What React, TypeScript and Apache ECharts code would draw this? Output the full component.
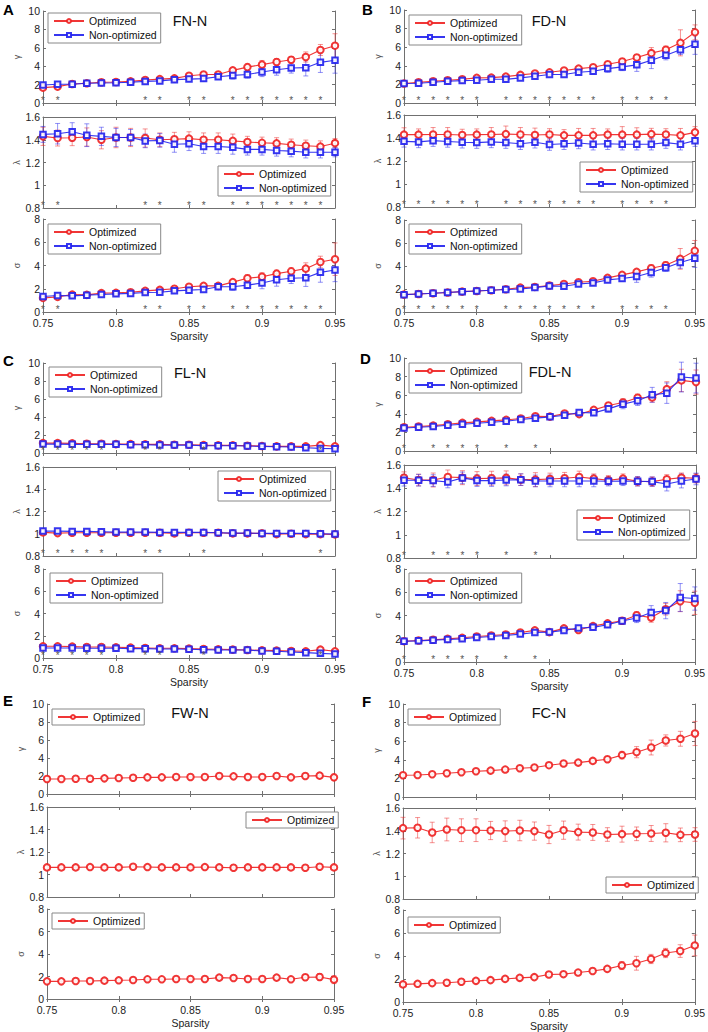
import React, { useEffect, useRef } from "react";
import * as echarts from "echarts";

// ---------------- DATA ----------------
const sparsity = [0.75, 0.76, 0.77, 0.78, 0.79, 0.8, 0.81, 0.82, 0.83, 0.84, 0.85, 0.86, 0.87, 0.88, 0.89, 0.9, 0.91, 0.92, 0.93, 0.94, 0.95];
const xTickLabels = ["0.75", "0.8", "0.85", "0.9", "0.95"];
const seriesNames = ["Optimized", "Non-optimized"];

// Panel A: FN-N
const A_gamma_opt = [1.67, 1.78, 2.07, 2.14, 2.25, 2.28, 2.35, 2.5, 2.6, 2.68, 2.97, 3.1, 3.1, 3.55, 3.9, 4.17, 4.46, 4.7, 5.0, 5.76, 6.23];
const A_gamma_opt_err = [0.15, 0.15, 0.1, 0.1, 0.1, 0.1, 0.15, 0.15, 0.15, 0.15, 0.2, 0.2, 0.2, 0.3, 0.35, 0.45, 0.35, 0.35, 0.55, 0.6, 1.3];
const A_gamma_non = [1.96, 2.03, 2.03, 2.14, 2.17, 2.2, 2.25, 2.35, 2.4, 2.54, 2.6, 2.65, 2.86, 3.0, 3.1, 3.37, 3.62, 3.8, 3.84, 4.42, 4.64];
const A_gamma_non_err = [0.1, 0.1, 0.1, 0.1, 0.1, 0.1, 0.1, 0.15, 0.15, 0.15, 0.2, 0.3, 0.3, 0.4, 0.4, 0.5, 0.6, 0.55, 0.9, 1.1, 1.4];
const A_lambda_opt = [1.43, 1.415, 1.418, 1.424, 1.4, 1.42, 1.42, 1.415, 1.4, 1.405, 1.41, 1.4, 1.4, 1.39, 1.38, 1.373, 1.368, 1.356, 1.347, 1.34, 1.37];
const A_lambda_opt_err = [0.08, 0.07, 0.07, 0.08, 0.08, 0.09, 0.08, 0.08, 0.06, 0.06, 0.06, 0.06, 0.06, 0.06, 0.05, 0.05, 0.05, 0.05, 0.05, 0.05, 0.04];
const A_lambda_non = [1.447, 1.453, 1.47, 1.44, 1.43, 1.42, 1.42, 1.39, 1.394, 1.36, 1.365, 1.34, 1.34, 1.333, 1.315, 1.315, 1.306, 1.3, 1.29, 1.29, 1.29];
const A_lambda_non_err = [0.07, 0.09, 0.08, 0.1, 0.08, 0.08, 0.07, 0.06, 0.06, 0.07, 0.06, 0.06, 0.06, 0.06, 0.05, 0.05, 0.05, 0.05, 0.05, 0.05, 0.04];
const A_sigma_opt = [1.21, 1.3, 1.5, 1.47, 1.62, 1.65, 1.7, 1.82, 1.9, 2.0, 2.17, 2.25, 2.25, 2.57, 2.9, 3.03, 3.3, 3.5, 3.73, 4.3, 4.54];
const A_sigma_opt_err = [0.1, 0.1, 0.1, 0.1, 0.1, 0.1, 0.1, 0.1, 0.1, 0.1, 0.15, 0.15, 0.15, 0.2, 0.3, 0.35, 0.3, 0.3, 0.5, 0.5, 1.4];
const A_sigma_non = [1.33, 1.42, 1.39, 1.45, 1.5, 1.56, 1.6, 1.68, 1.7, 1.82, 1.88, 1.94, 2.17, 2.17, 2.31, 2.5, 2.77, 2.9, 2.95, 3.41, 3.61];
const A_sigma_non_err = [0.1, 0.1, 0.1, 0.1, 0.1, 0.1, 0.1, 0.1, 0.1, 0.1, 0.15, 0.15, 0.2, 0.3, 0.3, 0.5, 0.55, 0.45, 0.75, 0.85, 1.0];
const A_significant = [0.75, 0.76, 0.82, 0.83, 0.85, 0.86, 0.88, 0.89, 0.9, 0.91, 0.92, 0.93, 0.94];

// Panel B: FD-N
const B_gamma_opt = [2.09, 2.23, 2.34, 2.45, 2.55, 2.7, 2.73, 2.84, 3.02, 3.17, 3.3, 3.49, 3.7, 3.85, 4.17, 4.46, 4.9, 5.36, 5.72, 6.47, 7.6];
const B_gamma_opt_err = [0.1, 0.1, 0.1, 0.1, 0.1, 0.1, 0.1, 0.15, 0.15, 0.15, 0.15, 0.15, 0.2, 0.2, 0.25, 0.3, 0.3, 0.6, 0.4, 1.4, 0.8];
const B_gamma_non = [2.09, 2.12, 2.23, 2.34, 2.41, 2.45, 2.55, 2.55, 2.7, 2.88, 3.06, 3.06, 3.3, 3.42, 3.7, 3.88, 4.1, 4.6, 5.14, 5.72, 6.33];
const B_gamma_non_err = [0.1, 0.1, 0.1, 0.1, 0.1, 0.1, 0.15, 0.15, 0.15, 0.15, 0.15, 0.2, 0.2, 0.3, 0.4, 0.4, 0.7, 0.9, 0.5, 0.5, 1.1];
const B_lambda_opt = [1.429, 1.429, 1.431, 1.431, 1.426, 1.429, 1.431, 1.434, 1.431, 1.426, 1.431, 1.423, 1.423, 1.423, 1.429, 1.429, 1.429, 1.434, 1.431, 1.423, 1.449];
const B_lambda_opt_err = [0.06, 0.05, 0.06, 0.06, 0.05, 0.05, 0.06, 0.07, 0.06, 0.06, 0.05, 0.05, 0.06, 0.06, 0.05, 0.07, 0.06, 0.05, 0.05, 0.06, 0.05];
const B_lambda_non = [1.371, 1.366, 1.377, 1.37, 1.363, 1.36, 1.366, 1.36, 1.35, 1.363, 1.343, 1.35, 1.357, 1.346, 1.35, 1.346, 1.346, 1.346, 1.36, 1.346, 1.377];
const B_lambda_non_err = [0.05, 0.05, 0.05, 0.05, 0.05, 0.05, 0.05, 0.05, 0.05, 0.05, 0.05, 0.05, 0.05, 0.05, 0.05, 0.05, 0.05, 0.05, 0.05, 0.05, 0.05];
const B_sigma_opt = [1.51, 1.57, 1.63, 1.69, 1.77, 1.83, 1.89, 1.98, 2.12, 2.18, 2.3, 2.44, 2.59, 2.67, 2.97, 3.23, 3.49, 3.81, 4.07, 4.62, 5.32];
const B_sigma_opt_err = [0.1, 0.1, 0.1, 0.1, 0.1, 0.1, 0.1, 0.1, 0.1, 0.1, 0.1, 0.1, 0.15, 0.15, 0.2, 0.2, 0.2, 0.3, 0.3, 0.9, 0.9];
const B_sigma_non = [1.51, 1.57, 1.63, 1.69, 1.77, 1.83, 1.89, 1.95, 2.0, 2.12, 2.27, 2.24, 2.44, 2.53, 2.79, 2.91, 3.08, 3.43, 3.84, 4.3, 4.68];
const B_sigma_non_err = [0.1, 0.1, 0.1, 0.1, 0.1, 0.1, 0.1, 0.1, 0.1, 0.1, 0.1, 0.1, 0.15, 0.15, 0.2, 0.25, 0.5, 0.4, 0.3, 0.5, 0.8];
const B_significant = [0.75, 0.76, 0.77, 0.78, 0.79, 0.8, 0.82, 0.83, 0.84, 0.85, 0.86, 0.87, 0.88, 0.9, 0.91, 0.92, 0.93];

// Panel C: FL-N
const C_gamma_opt = [1.1, 1.1, 1.07, 1.03, 1.03, 0.99, 0.99, 0.96, 0.96, 0.92, 0.92, 0.88, 0.85, 0.85, 0.81, 0.77, 0.74, 0.74, 0.74, 0.88, 0.74];
const C_gamma_opt_err = [0.05, 0.05, 0.05, 0.05, 0.05, 0.05, 0.05, 0.05, 0.05, 0.05, 0.05, 0.05, 0.05, 0.05, 0.05, 0.05, 0.05, 0.05, 0.08, 0.1, 0.1];
const C_gamma_non = [0.99, 0.99, 0.96, 0.96, 0.96, 0.96, 0.92, 0.92, 0.88, 0.88, 0.88, 0.81, 0.81, 0.81, 0.77, 0.74, 0.7, 0.66, 0.59, 0.51, 0.48];
const C_gamma_non_err = [0.05, 0.05, 0.05, 0.05, 0.05, 0.05, 0.05, 0.05, 0.05, 0.05, 0.05, 0.05, 0.05, 0.05, 0.05, 0.05, 0.05, 0.05, 0.06, 0.08, 0.08];
const C_lambda_opt = [1.012, 1.006, 1.009, 1.009, 1.009, 1.009, 1.009, 1.009, 1.009, 1.003, 1.009, 1.009, 1.009, 1.003, 1.003, 1.003, 0.997, 1.0, 0.997, 0.997, 0.994];
const C_lambda_opt_err = [0.006, 0.006, 0.006, 0.006, 0.006, 0.006, 0.006, 0.006, 0.006, 0.006, 0.006, 0.006, 0.006, 0.006, 0.006, 0.006, 0.006, 0.006, 0.006, 0.006, 0.006];
const C_lambda_non = [1.024, 1.024, 1.021, 1.021, 1.018, 1.015, 1.015, 1.015, 1.012, 1.012, 1.012, 1.012, 1.009, 1.006, 1.006, 1.003, 1.003, 1.003, 1.003, 1.0, 0.997];
const C_lambda_non_err = [0.006, 0.006, 0.006, 0.006, 0.006, 0.006, 0.006, 0.006, 0.006, 0.006, 0.006, 0.006, 0.006, 0.006, 0.006, 0.006, 0.006, 0.006, 0.006, 0.006, 0.006];
const C_sigma_opt = [1.05, 1.05, 1.02, 0.99, 0.99, 0.96, 0.93, 0.9, 0.87, 0.87, 0.84, 0.81, 0.78, 0.75, 0.72, 0.69, 0.66, 0.63, 0.6, 0.75, 0.6];
const C_sigma_opt_err = [0.05, 0.05, 0.05, 0.05, 0.05, 0.05, 0.05, 0.05, 0.05, 0.05, 0.05, 0.05, 0.05, 0.05, 0.05, 0.05, 0.05, 0.05, 0.08, 0.1, 0.1];
const C_sigma_non = [0.9, 0.9, 0.9, 0.87, 0.87, 0.87, 0.84, 0.84, 0.81, 0.81, 0.78, 0.75, 0.72, 0.72, 0.72, 0.63, 0.6, 0.54, 0.48, 0.42, 0.36];
const C_sigma_non_err = [0.05, 0.05, 0.05, 0.05, 0.05, 0.05, 0.05, 0.05, 0.05, 0.05, 0.05, 0.05, 0.05, 0.05, 0.05, 0.05, 0.05, 0.05, 0.06, 0.08, 0.08];
const C_significant = [0.75, 0.76, 0.77, 0.78, 0.79, 0.82, 0.83, 0.86, 0.94];

// Panel D: FDL-N
const D_gamma_opt = [2.55, 2.63, 2.73, 2.88, 3.02, 3.13, 3.24, 3.35, 3.49, 3.74, 3.7, 4.03, 3.96, 4.42, 4.89, 5.22, 5.72, 5.76, 6.65, 7.59, 7.41];
const D_gamma_opt_err = [0.1, 0.1, 0.1, 0.1, 0.1, 0.1, 0.15, 0.15, 0.15, 0.15, 0.15, 0.2, 0.2, 0.25, 0.3, 0.4, 0.4, 0.5, 0.8, 1.2, 1.3];
const D_gamma_non = [2.48, 2.55, 2.63, 2.77, 2.88, 2.99, 3.09, 3.2, 3.38, 3.53, 3.67, 3.85, 4.14, 4.1, 4.53, 5.04, 5.4, 6.04, 6.22, 7.95, 7.84];
const D_gamma_non_err = [0.1, 0.1, 0.1, 0.1, 0.1, 0.1, 0.15, 0.15, 0.15, 0.15, 0.15, 0.2, 0.2, 0.25, 0.35, 0.5, 0.5, 0.8, 1.1, 1.6, 1.6];
const D_lambda_opt = [1.491, 1.471, 1.471, 1.497, 1.491, 1.483, 1.486, 1.489, 1.474, 1.474, 1.48, 1.486, 1.497, 1.483, 1.469, 1.483, 1.46, 1.457, 1.477, 1.491, 1.486];
const D_lambda_opt_err = [0.05, 0.05, 0.06, 0.06, 0.06, 0.06, 0.06, 0.06, 0.05, 0.06, 0.05, 0.05, 0.05, 0.04, 0.04, 0.04, 0.04, 0.04, 0.04, 0.04, 0.04];
const D_lambda_non = [1.469, 1.469, 1.466, 1.454, 1.489, 1.466, 1.466, 1.471, 1.474, 1.463, 1.463, 1.463, 1.463, 1.463, 1.46, 1.463, 1.46, 1.457, 1.437, 1.463, 1.48];
const D_lambda_non_err = [0.05, 0.05, 0.05, 0.05, 0.05, 0.05, 0.05, 0.05, 0.05, 0.05, 0.05, 0.05, 0.05, 0.05, 0.04, 0.04, 0.04, 0.04, 0.06, 0.06, 0.05];
const D_sigma_opt = [1.79, 1.85, 1.91, 1.99, 2.08, 2.2, 2.28, 2.37, 2.54, 2.72, 2.57, 2.89, 2.75, 3.09, 3.32, 3.55, 4.02, 3.82, 4.54, 5.23, 5.09];
const D_sigma_opt_err = [0.1, 0.1, 0.1, 0.1, 0.1, 0.1, 0.1, 0.1, 0.1, 0.1, 0.1, 0.1, 0.15, 0.15, 0.2, 0.25, 0.3, 0.4, 0.5, 0.9, 1.0];
const D_sigma_non = [1.79, 1.82, 1.88, 1.94, 1.99, 2.11, 2.2, 2.28, 2.4, 2.54, 2.57, 2.72, 2.92, 2.98, 3.21, 3.53, 3.79, 4.25, 4.42, 5.55, 5.46];
const D_sigma_non_err = [0.1, 0.1, 0.1, 0.1, 0.1, 0.1, 0.1, 0.1, 0.1, 0.1, 0.1, 0.1, 0.15, 0.15, 0.2, 0.3, 0.4, 0.6, 0.7, 1.2, 1.0];
const D_significant = [0.75, 0.77, 0.78, 0.79, 0.8, 0.82, 0.84];

// Panel E: FW-N (optimized only)
const E_gamma_opt = [1.67, 1.67, 1.7, 1.7, 1.74, 1.78, 1.81, 1.85, 1.85, 1.89, 1.89, 1.89, 2.0, 1.96, 1.89, 1.89, 2.0, 1.85, 2.0, 2.04, 1.85];
const E_gamma_opt_err = [0.1, 0.1, 0.1, 0.1, 0.1, 0.1, 0.1, 0.1, 0.1, 0.1, 0.1, 0.1, 0.15, 0.15, 0.15, 0.15, 0.15, 0.15, 0.25, 0.3, 0.35];
const E_lambda_opt = [1.063, 1.063, 1.063, 1.066, 1.063, 1.063, 1.069, 1.066, 1.063, 1.063, 1.063, 1.066, 1.063, 1.06, 1.063, 1.063, 1.063, 1.063, 1.06, 1.069, 1.063];
const E_lambda_opt_err = [0.01, 0.01, 0.01, 0.01, 0.01, 0.01, 0.01, 0.01, 0.01, 0.01, 0.01, 0.01, 0.01, 0.01, 0.01, 0.01, 0.01, 0.01, 0.01, 0.015, 0.015];
const E_sigma_opt = [1.57, 1.57, 1.6, 1.6, 1.63, 1.66, 1.69, 1.75, 1.75, 1.78, 1.78, 1.78, 1.9, 1.87, 1.78, 1.78, 1.9, 1.75, 1.93, 1.96, 1.72];
const E_sigma_opt_err = [0.1, 0.1, 0.1, 0.1, 0.1, 0.1, 0.1, 0.1, 0.1, 0.1, 0.1, 0.1, 0.15, 0.15, 0.15, 0.15, 0.15, 0.15, 0.25, 0.3, 0.35];

// Panel F: FC-N (optimized only)
const F_gamma_opt = [2.34, 2.37, 2.45, 2.55, 2.66, 2.77, 2.84, 2.95, 3.09, 3.17, 3.42, 3.6, 3.7, 3.88, 4.06, 4.5, 4.82, 5.32, 6.08, 6.26, 6.83];
const F_gamma_opt_err = [0.12, 0.12, 0.12, 0.12, 0.15, 0.15, 0.15, 0.15, 0.15, 0.15, 0.2, 0.2, 0.2, 0.2, 0.3, 0.4, 0.6, 0.8, 0.6, 0.8, 1.3];
const F_lambda_opt = [1.423, 1.426, 1.385, 1.411, 1.405, 1.405, 1.402, 1.397, 1.402, 1.397, 1.367, 1.405, 1.388, 1.385, 1.367, 1.37, 1.373, 1.376, 1.382, 1.364, 1.367];
const F_lambda_opt_err = [0.095, 0.09, 0.09, 0.1, 0.1, 0.1, 0.08, 0.09, 0.09, 0.08, 0.08, 0.08, 0.07, 0.07, 0.06, 0.07, 0.06, 0.07, 0.08, 0.06, 0.06];
const F_sigma_opt = [1.53, 1.58, 1.64, 1.67, 1.76, 1.84, 1.9, 2.01, 2.1, 2.16, 2.39, 2.42, 2.56, 2.7, 2.88, 3.17, 3.37, 3.74, 4.26, 4.43, 4.92];
const F_sigma_opt_err = [0.1, 0.1, 0.1, 0.1, 0.1, 0.1, 0.1, 0.1, 0.12, 0.12, 0.15, 0.15, 0.15, 0.15, 0.2, 0.35, 0.6, 0.4, 0.4, 0.55, 0.9];

// ---------------- STYLE / LAYOUT ----------------
const FONT = '"Liberation Sans", Arial, Helvetica, sans-serif';
const RED = "#ee2020";
const BLUE = "#2020ee";
const RED_ERR = "rgba(238,40,40,0.5)";
const BLUE_ERR = "rgba(40,40,238,0.5)";
const AXIS = "#707070";

type Kind = "gamma" | "lambda" | "sigma";
const Y_SPEC: Record<Kind, { min: number; max: number; interval: number; name: string }> = {
  gamma: { min: 0, max: 10, interval: 2, name: "γ" },
  lambda: { min: 0.8, max: 1.6, interval: 0.2, name: "λ" },
  sigma: { min: 0, max: 8, interval: 2, name: "σ" },
};

type Sub = { kind: Kind; opt: number[]; optErr: number[]; non?: number[]; nonErr?: number[] };
type Panel = {
  letter: string;
  title: string;
  sig: number[];
  subs: Sub[];
  left: number;
  width: number;
  tops: number[];
  heights: number[];
  titlePos: number[];
  letterPos: number[];
  legends: number[][];
};

const panels: Panel[] = [
  {
    letter: "A", title: "FN-N", sig: A_significant,
    subs: [
      { kind: "gamma", opt: A_gamma_opt, optErr: A_gamma_opt_err, non: A_gamma_non, nonErr: A_gamma_non_err },
      { kind: "lambda", opt: A_lambda_opt, optErr: A_lambda_opt_err, non: A_lambda_non, nonErr: A_lambda_non_err },
      { kind: "sigma", opt: A_sigma_opt, optErr: A_sigma_opt_err, non: A_sigma_non, nonErr: A_sigma_non_err },
    ],
    left: 43, width: 292, tops: [11, 117, 219], heights: [92, 91, 93],
    titlePos: [190, 21], letterPos: [3, 2], legends: [[48, 13], [218, 166], [48, 224]],
  },
  {
    letter: "B", title: "FD-N", sig: B_significant,
    subs: [
      { kind: "gamma", opt: B_gamma_opt, optErr: B_gamma_opt_err, non: B_gamma_non, nonErr: B_gamma_non_err },
      { kind: "lambda", opt: B_lambda_opt, optErr: B_lambda_opt_err, non: B_lambda_non, nonErr: B_lambda_non_err },
      { kind: "sigma", opt: B_sigma_opt, optErr: B_sigma_opt_err, non: B_sigma_non, nonErr: B_sigma_non_err },
    ],
    left: 404, width: 291, tops: [10, 115, 220], heights: [93, 92, 92],
    titlePos: [549, 21], letterPos: [362, 2], legends: [[409, 15], [580, 162], [409, 224]],
  },
  {
    letter: "C", title: "FL-N", sig: C_significant,
    subs: [
      { kind: "gamma", opt: C_gamma_opt, optErr: C_gamma_opt_err, non: C_gamma_non, nonErr: C_gamma_non_err },
      { kind: "lambda", opt: C_lambda_opt, optErr: C_lambda_opt_err, non: C_lambda_non, nonErr: C_lambda_non_err },
      { kind: "sigma", opt: C_sigma_opt, optErr: C_sigma_opt_err, non: C_sigma_non, nonErr: C_sigma_non_err },
    ],
    left: 43, width: 292, tops: [363, 467, 569], heights: [90, 89, 89],
    titlePos: [190, 373], letterPos: [3, 353], legends: [[49, 367], [218, 471], [50, 573]],
  },
  {
    letter: "D", title: "FDL-N", sig: D_significant,
    subs: [
      { kind: "gamma", opt: D_gamma_opt, optErr: D_gamma_opt_err, non: D_gamma_non, nonErr: D_gamma_non_err },
      { kind: "lambda", opt: D_lambda_opt, optErr: D_lambda_opt_err, non: D_lambda_non, nonErr: D_lambda_non_err },
      { kind: "sigma", opt: D_sigma_opt, optErr: D_sigma_opt_err, non: D_sigma_non, nonErr: D_sigma_non_err },
    ],
    left: 404, width: 292, tops: [358, 465, 569], heights: [93, 93, 93],
    titlePos: [550, 372], letterPos: [360, 351], legends: [[409, 363], [577, 510], [409, 573]],
  },
  {
    letter: "E", title: "FW-N", sig: [],
    subs: [
      { kind: "gamma", opt: E_gamma_opt, optErr: E_gamma_opt_err },
      { kind: "lambda", opt: E_lambda_opt, optErr: E_lambda_opt_err },
      { kind: "sigma", opt: E_sigma_opt, optErr: E_sigma_opt_err },
    ],
    left: 47, width: 287, tops: [704, 807, 909], heights: [90, 90, 90],
    titlePos: [190, 713], letterPos: [3, 693], legends: [[52, 709], [246, 812], [52, 913]],
  },
  {
    letter: "F", title: "FC-N", sig: [],
    subs: [
      { kind: "gamma", opt: F_gamma_opt, optErr: F_gamma_opt_err },
      { kind: "lambda", opt: F_lambda_opt, optErr: F_lambda_opt_err },
      { kind: "sigma", opt: F_sigma_opt, optErr: F_sigma_opt_err },
    ],
    left: 403, width: 292, tops: [704, 808, 910], heights: [93, 91, 93],
    titlePos: [549, 713], letterPos: [362, 694], legends: [[408, 709], [606, 877], [408, 917]],
  },
];

function errRender(color: string) {
  return (_params: any, api: any) => {
    const x = api.value(0);
    const lo = api.value(1);
    const hi = api.value(2);
    const t = api.coord([x, hi]);
    const b = api.coord([x, lo]);
    const w = 2.5;
    const st = { stroke: color, lineWidth: 1 };
    return {
      type: "group",
      children: [
        { type: "line", shape: { x1: t[0], y1: t[1], x2: b[0], y2: b[1] }, style: st },
        { type: "line", shape: { x1: t[0] - w, y1: t[1], x2: t[0] + w, y2: t[1] }, style: st },
        { type: "line", shape: { x1: b[0] - w, y1: b[1], x2: b[0] + w, y2: b[1] }, style: st },
      ],
    };
  };
}

function starRender(_params: any, api: any) {
  const p = api.coord([api.value(0), api.value(1)]);
  return {
    type: "text",
    style: {
      text: "*",
      x: p[0],
      y: p[1] - 8,
      fill: "#555",
      font: `10px ${FONT}`,
      align: "center",
      verticalAlign: "top",
    },
  };
}

function buildOption() {
  const grid: any[] = [];
  const xAxis: any[] = [];
  const yAxis: any[] = [];
  const series: any[] = [];
  const legend: any[] = [];
  const graphic: any[] = [];

  let g = 0;
  panels.forEach((p) => {
    graphic.push({
      type: "text", left: p.letterPos[0], top: p.letterPos[1],
      style: { text: p.letter, font: `bold 15px ${FONT}`, fill: "#000" },
    });
    graphic.push({
      type: "text", x: p.titlePos[0], y: p.titlePos[1],
      style: { text: p.title, font: `14.5px ${FONT}`, fill: "#111", align: "center", verticalAlign: "middle" },
    });

    p.subs.forEach((s, si) => {
      const ys = Y_SPEC[s.kind];
      const bottomPlot = si === 2;
      grid.push({ left: p.left, top: p.tops[si], width: p.width, height: p.heights[si], containLabel: false });
      const tick = { show: true, inside: true, length: 3, lineStyle: { color: AXIS } };
      const line = { show: true, lineStyle: { color: AXIS, width: 1 } };
      xAxis.push({
        type: "value", gridIndex: g, position: "bottom", min: 0.75, max: 0.95, interval: 0.05,
        axisLine: line, axisTick: tick, splitLine: { show: false },
        axisLabel: {
          show: bottomPlot, fontSize: 10.5, lineHeight: 11, color: "#222", fontFamily: FONT, margin: 5,
          formatter: (v: number) => xTickLabels[Math.round((v - 0.75) / 0.05)] ?? "",
        },
        name: bottomPlot ? "Sparsity" : "", nameLocation: "middle", nameGap: 18,
        nameTextStyle: { fontSize: 10.5, color: "#222", fontFamily: FONT },
      });
      xAxis.push({
        type: "value", gridIndex: g, position: "top", min: 0.75, max: 0.95, interval: 0.05,
        axisLine: line, axisTick: tick, splitLine: { show: false }, axisLabel: { show: false },
      });
      yAxis.push({
        type: "value", gridIndex: g, position: "left", min: ys.min, max: ys.max, interval: ys.interval,
        axisLine: line, axisTick: tick, splitLine: { show: false },
        axisLabel: {
          fontSize: 10.5, lineHeight: 9, color: "#222", fontFamily: FONT, margin: 3,
          formatter: (v: number) => String(parseFloat(v.toFixed(2))),
        },
        name: ys.name, nameLocation: "middle", nameGap: 22, nameRotate: 90,
        nameTextStyle: { fontSize: 9, color: "#555", fontFamily: FONT },
      });
      yAxis.push({
        type: "value", gridIndex: g, position: "right", min: ys.min, max: ys.max, interval: ys.interval,
        axisLine: line, axisTick: tick, splitLine: { show: false }, axisLabel: { show: false },
      });

      const xi = 2 * g;
      const yi = 2 * g;
      const groups: { name: string; vals: number[]; errs: number[]; color: string; err: string; symbol: string; size: number }[] = [
        { name: seriesNames[0], vals: s.opt, errs: s.optErr, color: RED, err: RED_ERR, symbol: "emptyCircle", size: 6.5 },
      ];
      if (s.non && s.nonErr) {
        groups.push({ name: seriesNames[1], vals: s.non, errs: s.nonErr, color: BLUE, err: BLUE_ERR, symbol: "emptyRect", size: 5.5 });
      }
      groups.forEach((gr) => {
        series.push({
          type: "custom", xAxisIndex: xi, yAxisIndex: yi, silent: true, z: 1,
          renderItem: errRender(gr.err),
          encode: { x: 0, y: [1, 2] },
          data: sparsity.map((x, i) => [x, gr.vals[i] - gr.errs[i], gr.vals[i] + gr.errs[i]]),
        });
      });
      groups.forEach((gr, k) => {
        series.push({
          type: "line", name: gr.name, xAxisIndex: xi, yAxisIndex: yi, z: 2 + k,
          symbol: gr.symbol, symbolSize: gr.size, showSymbol: true,
          lineStyle: { color: gr.color, width: 1.1, opacity: 0.9 },
          itemStyle: { color: gr.color, borderWidth: 1, opacity: 0.9 },
          data: sparsity.map((x, i) => [x, gr.vals[i]]),
        });
      });
      if (p.sig.length) {
        series.push({
          type: "custom", xAxisIndex: xi, yAxisIndex: yi, silent: true, z: 5,
          renderItem: starRender,
          encode: { x: 0, y: 1 },
          data: p.sig.map((x) => [x, ys.min]),
        });
      }
      legend.push({
        data: groups.map((gr) => gr.name),
        orient: "vertical",
        left: p.legends[si][0],
        top: p.legends[si][1],
        padding: [2, 4, 2, 5],
        itemGap: 2,
        itemWidth: 30,
        itemHeight: 5,
        borderColor: "#888",
        borderWidth: 1,
        borderRadius: 0,
        backgroundColor: "#fff",
        selectedMode: false,
        textStyle: { fontSize: 10.5, lineHeight: 12, color: "#111", fontFamily: FONT },
      });
      g++;
    });
  });

  return {
    animation: false,
    backgroundColor: "#fff",
    textStyle: { fontFamily: FONT },
    grid,
    xAxis,
    yAxis,
    series,
    legend,
    graphic,
  };
}

export default function App() {
  const ref = useRef<HTMLDivElement>(null);
  useEffect(() => {
    if (!ref.current) return;
    const chart = echarts.init(ref.current, undefined, { renderer: "svg" });
    chart.setOption(buildOption() as any);
    return () => chart.dispose();
  }, []);
  return (
    <div
      ref={ref}
      style={{ position: "absolute", left: 0, top: 0, width: 708, height: 1032, background: "#fff" }}
    />
  );
}
